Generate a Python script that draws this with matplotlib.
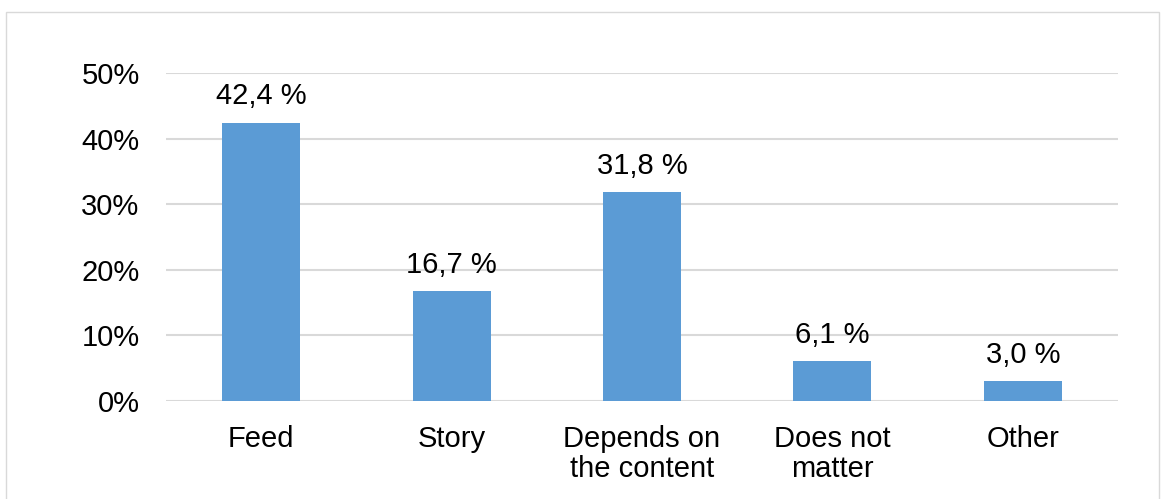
import matplotlib
matplotlib.use("Agg")
import matplotlib.pyplot as plt
from matplotlib.patches import Rectangle

categories = ["Feed", "Story", "Depends on\nthe content", "Does not\nmatter", "Other"]
values = [42.4, 16.7, 31.8, 6.1, 3.0]
value_labels = ["42,4 %", "16,7 %", "31,8 %", "6,1 %", "3,0 %"]
yticks = [0, 10, 20, 30, 40, 50]
ytick_labels = ["0%", "10%", "20%", "30%", "40%", "50%"]

plt.rcParams["font.family"] = ["Liberation Sans", "DejaVu Sans"]

W, H = 1162, 499
fig = plt.figure(figsize=(W / 100, H / 100), dpi=100)
fig.patch.set_facecolor("white")

# outer chart frame
fig.add_artist(Rectangle((6 / W, -0.05), (1159 - 6) / W, (H - 12) / H + 0.05,
                         transform=fig.transFigure, fill=False,
                         edgecolor="#d9d9d9", linewidth=1.0))

ax = fig.add_axes([166 / W, (H - 401) / H, (1118 - 166) / W, (401 - 73) / H])
x = list(range(len(categories)))
ax.bar(x, values, width=0.41, color="#5B9BD5", zorder=3)

ax.set_xlim(-0.5, len(categories) - 0.5)
ax.set_ylim(0, 50)
ax.set_yticks(yticks)
ax.set_yticklabels(ytick_labels, fontsize=21)
ax.set_xticks(x)
ax.set_xticklabels(categories, fontsize=21, linespacing=1.12)
ax.tick_params(axis="both", length=0)
ax.tick_params(axis="y", pad=19)
ax.tick_params(axis="x", pad=17)
for s in ax.spines.values():
    s.set_visible(False)
ax.grid(axis="y", color="#d9d9d9", linewidth=1.5, zorder=0)
ax.set_axisbelow(True)

for xi, v, lab in zip(x, values, value_labels):
    ax.annotate(lab, (xi, v), xytext=(0, 19), textcoords="offset points",
                ha="center", va="center", fontsize=21, color="black")

fig.savefig("out.png", dpi=100)
